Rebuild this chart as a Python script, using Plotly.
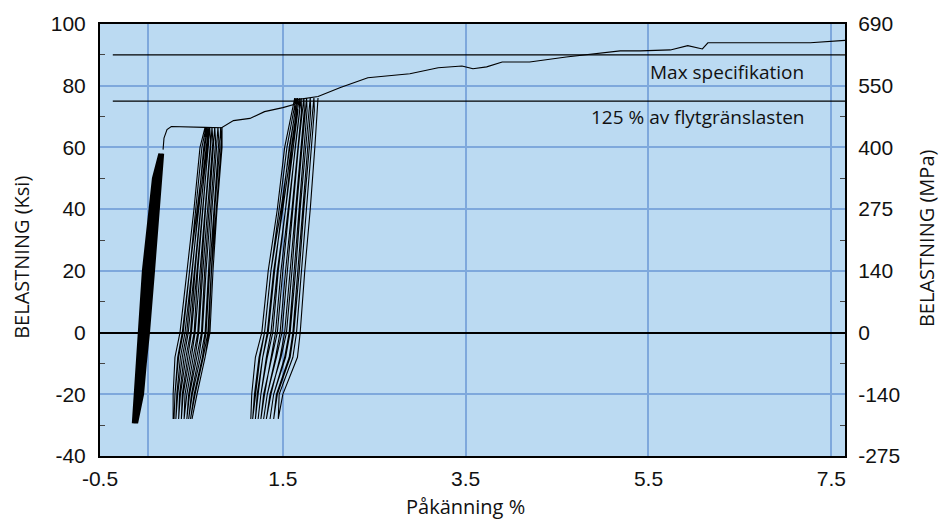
import plotly.graph_objects as go

# ---- axis ticks / labels ----
X_TICKS = [-0.5, 1.5, 3.5, 5.5, 7.5]
X_TICK_TEXT = ["-0.5", "1.5", "3.5", "5.5", "7.5"]
X_EXTRA_GRID = [0.03]
KSI_TICKS = [100, 80, 60, 40, 20, 0, -20, -40]
KSI_TEXT = ["100", "80", "60", "40", "20", "0", "-20", "-40"]
MPA_TEXT = ["690", "550", "400", "275", "140", "0", "-140", "-275"]
KSI_MINOR = [90, 70, 50, 30, 10, -10, -30]

# ---- reference levels (Ksi) ----
MAX_SPEC = 90
YIELD_125 = 75
SPEC_X = [-0.36, 7.65]

# ---- monotonic envelope (strain %, Ksi) ----
ENV_X = [0.19, 0.20, 0.233, 0.28, 0.65, 0.83, 0.96, 1.14, 1.30, 1.50, 1.63, 1.66,
         1.885, 2.13, 2.43, 2.89, 3.20, 3.46, 3.58, 3.73, 3.90, 4.20, 4.60, 5.19,
         5.41, 5.74, 5.93, 6.09, 6.15, 7.27, 7.65]
ENV_Y = [59.3, 63.0, 65.8, 66.8, 66.5, 66.4, 68.7, 69.4, 71.6, 72.9, 74.0, 75.5,
         76.5, 79.4, 82.6, 83.9, 85.8, 86.4, 85.5, 86.1, 87.7, 87.7, 89.3, 91.3,
         91.3, 91.6, 93.0, 91.9, 93.9, 93.9, 94.7]

# ---- cyclic loops, cluster 1 (load levels then unload levels) ----
C1_Y = [-29.4, -20, -10, 0, 20, 50, 58, 50, 20, 0, -10, -20]
C1_X = [
    [-0.14, -0.12, -0.095, -0.073, -0.03, 0.08, 0.15, 0.10, -0.01, -0.055, -0.08, -0.11],
    [-0.135, -0.105, -0.075, -0.05, -0.005, 0.10, 0.16, 0.12, 0.01, -0.035, -0.06, -0.09],
    [-0.125, -0.09, -0.055, -0.03, 0.02, 0.12, 0.17, 0.135, 0.035, -0.01, -0.04, -0.07],
    [-0.115, -0.07, -0.035, -0.01, 0.045, 0.14, 0.18, 0.15, 0.06, 0.01, -0.02, -0.05],
    [-0.105, -0.05, -0.015, 0.015, 0.07, 0.155, 0.185, 0.165, 0.08, 0.03, 0.0, -0.03],
    [-0.095, -0.03, 0.0, 0.035, 0.09, 0.17, 0.19],
]

# ---- cluster 2 ----
C2_Y = [-28, -20, -8, 0, 20, 40, 60, 66.5, 62, 40, 20, 0, -8, -20]
C2_X = [
    [0.30, 0.30, 0.32, 0.375, 0.452, 0.528, 0.594, 0.649, 0.655, 0.56, 0.48, 0.40, 0.35, 0.32],
    [0.31, 0.32, 0.36, 0.41, 0.48, 0.55, 0.615, 0.66, 0.67, 0.58, 0.505, 0.43, 0.38, 0.34],
    [0.33, 0.35, 0.40, 0.45, 0.51, 0.575, 0.635, 0.67, 0.68, 0.60, 0.53, 0.465, 0.42, 0.37],
    [0.36, 0.38, 0.44, 0.49, 0.54, 0.60, 0.66, 0.685, 0.69, 0.625, 0.56, 0.50, 0.46, 0.40],
    [0.39, 0.41, 0.48, 0.53, 0.57, 0.625, 0.685, 0.70, 0.71, 0.65, 0.59, 0.54, 0.50, 0.43],
    [0.42, 0.45, 0.52, 0.57, 0.61, 0.655, 0.71, 0.725, 0.735, 0.675, 0.625, 0.58, 0.54, 0.47],
    [0.45, 0.48, 0.56, 0.61, 0.645, 0.69, 0.74, 0.755, 0.765, 0.71, 0.66, 0.62, 0.58, 0.50],
    [0.47, 0.51, 0.60, 0.65, 0.685, 0.725, 0.775, 0.79, 0.80, 0.745, 0.70, 0.66, 0.62, 0.53],
    [0.49, 0.54, 0.63, 0.68, 0.715, 0.755, 0.81, 0.82, 0.83, 0.77, 0.72, 0.69, 0.65, 0.56],
    [0.507, 0.561, 0.649, 0.703, 0.736, 0.78, 0.835, 0.835],
]

# ---- cluster 3 ----
C3_Y = [-28, -20, -8, 0, 20, 40, 60, 76, 72, 40, 20, 0, -8, -20]
C3_X = [
    [1.15, 1.16, 1.20, 1.27, 1.34, 1.44, 1.52, 1.63, 1.635, 1.48, 1.37, 1.30, 1.25, 1.20],
    [1.17, 1.19, 1.24, 1.30, 1.37, 1.46, 1.545, 1.645, 1.65, 1.50, 1.40, 1.33, 1.28, 1.23],
    [1.20, 1.22, 1.28, 1.34, 1.41, 1.49, 1.57, 1.66, 1.665, 1.53, 1.44, 1.37, 1.32, 1.26],
    [1.23, 1.26, 1.33, 1.39, 1.45, 1.53, 1.60, 1.68, 1.685, 1.56, 1.48, 1.42, 1.37, 1.30],
    [1.26, 1.29, 1.38, 1.44, 1.50, 1.57, 1.635, 1.70, 1.705, 1.60, 1.53, 1.47, 1.42, 1.33],
    [1.29, 1.33, 1.43, 1.49, 1.55, 1.61, 1.67, 1.73, 1.735, 1.64, 1.58, 1.52, 1.47, 1.37],
    [1.32, 1.36, 1.48, 1.54, 1.60, 1.65, 1.71, 1.76, 1.765, 1.68, 1.62, 1.57, 1.52, 1.40],
    [1.36, 1.40, 1.53, 1.58, 1.64, 1.69, 1.75, 1.80, 1.805, 1.72, 1.66, 1.61, 1.57, 1.43],
    [1.40, 1.44, 1.58, 1.62, 1.68, 1.73, 1.79, 1.84, 1.845, 1.76, 1.70, 1.65, 1.61, 1.46],
    [1.45, 1.50, 1.66, 1.69, 1.74, 1.80, 1.85, 1.885],
]

BG = "#BBDAF2"
GRID = "#7EA8DC"
TICK_FONT = dict(family="Liberation Sans, Arial, sans-serif", size=21, color="#111")
TEXT_FONT = dict(family="Open Sans, Noto Sans, sans-serif", size=19, color="#111")
TITLE_FONT = dict(family="Open Sans, Noto Sans, sans-serif", size=20, color="#111")


def chain(ys, xs_list):
    xx, yy = [], []
    for xs in xs_list:
        for x, y in zip(xs, ys):
            xx.append(x)
            yy.append(y)
    return xx, yy


fig = go.Figure()

for ys, xs_list, w in [(C1_Y, C1_X, 2.2), (C2_Y, C2_X, 1.1), (C3_Y, C3_X, 1.1)]:
    xx, yy = chain(ys, xs_list)
    fig.add_trace(go.Scatter(x=xx, y=yy, mode="lines",
                             line=dict(color="black", width=w), hoverinfo="skip"))

fig.add_trace(go.Scatter(x=ENV_X, y=ENV_Y, mode="lines",
                         line=dict(color="black", width=1.1), hoverinfo="skip"))

for lvl in [MAX_SPEC, YIELD_125]:
    fig.add_trace(go.Scatter(x=SPEC_X, y=[lvl, lvl], mode="lines", yaxis="y2",
                             line=dict(color="black", width=1.2), hoverinfo="skip"))

fig.update_layout(
    width=941, height=521,
    margin=dict(l=100, r=96, t=22, b=65),
    paper_bgcolor="white",
    plot_bgcolor=BG,
    showlegend=False,
    xaxis=dict(
        range=[-0.5, 7.65], tickmode="array", tickvals=X_TICKS, ticktext=X_TICK_TEXT,
        showgrid=True, gridcolor=GRID, gridwidth=1.5, zeroline=False,
        showline=True, linecolor="black", linewidth=2, mirror=True,
        ticks="", tickfont=TICK_FONT, ticklabelstandoff=3,
        minor=dict(tickmode="array", tickvals=X_EXTRA_GRID, showgrid=True,
                   gridcolor=GRID, gridwidth=1.5, ticks=""),
    ),
    yaxis=dict(
        range=[-40, 100], tickmode="array", tickvals=KSI_TICKS, ticktext=KSI_TEXT,
        showgrid=True, gridcolor=GRID, gridwidth=1.5,
        zeroline=True, zerolinecolor="black", zerolinewidth=1.5,
        showline=True, linecolor="black", linewidth=2, mirror=True,
        ticks="", tickfont=TICK_FONT, ticklabelstandoff=8,
        minor=dict(tickmode="array", tickvals=KSI_MINOR, ticks="inside",
                   ticklen=5, tickcolor="#444", tickwidth=1.2, showgrid=False),
    ),
    yaxis2=dict(
        range=[-40, 100], overlaying="y", side="right", tickmode="array",
        tickvals=KSI_TICKS, ticktext=MPA_TEXT, showgrid=False, zeroline=False,
        showline=True, linecolor="black", linewidth=2,
        ticks="", tickfont=TICK_FONT, ticklabelstandoff=7,
        minor=dict(tickmode="array", tickvals=KSI_MINOR, ticks="inside",
                   ticklen=5, tickcolor="#444", tickwidth=1.2, showgrid=False),
    ),
    annotations=[
        dict(text="Max specifikation", x=7.224, y=84.5, xref="x", yref="y",
             xanchor="right", yanchor="middle", showarrow=False, font=TEXT_FONT),
        dict(text="125 % av flytgränslasten", x=7.224, y=69.8, xref="x", yref="y",
             xanchor="right", yanchor="middle", showarrow=False, font=TEXT_FONT),
        dict(text="Påkänning %", x=0.49, y=-0.118, xref="paper", yref="paper",
             xanchor="center", yanchor="middle", showarrow=False, font=TITLE_FONT),
        dict(text="BELASTNING (Ksi)", x=-0.1047, y=0.461, xref="paper", yref="paper",
             xanchor="center", yanchor="middle", textangle=-90, showarrow=False,
             font=TITLE_FONT),
        dict(text="BELASTNING (MPa)", x=1.1088, y=0.5046, xref="paper", yref="paper",
             xanchor="center", yanchor="middle", textangle=-90, showarrow=False,
             font=TITLE_FONT),
    ],
)

fig.write_html(
    "out.html",
    config={"displayModeBar": False},
    post_script="document.body.style.margin='0px';document.body.style.overflow='hidden';",
)
